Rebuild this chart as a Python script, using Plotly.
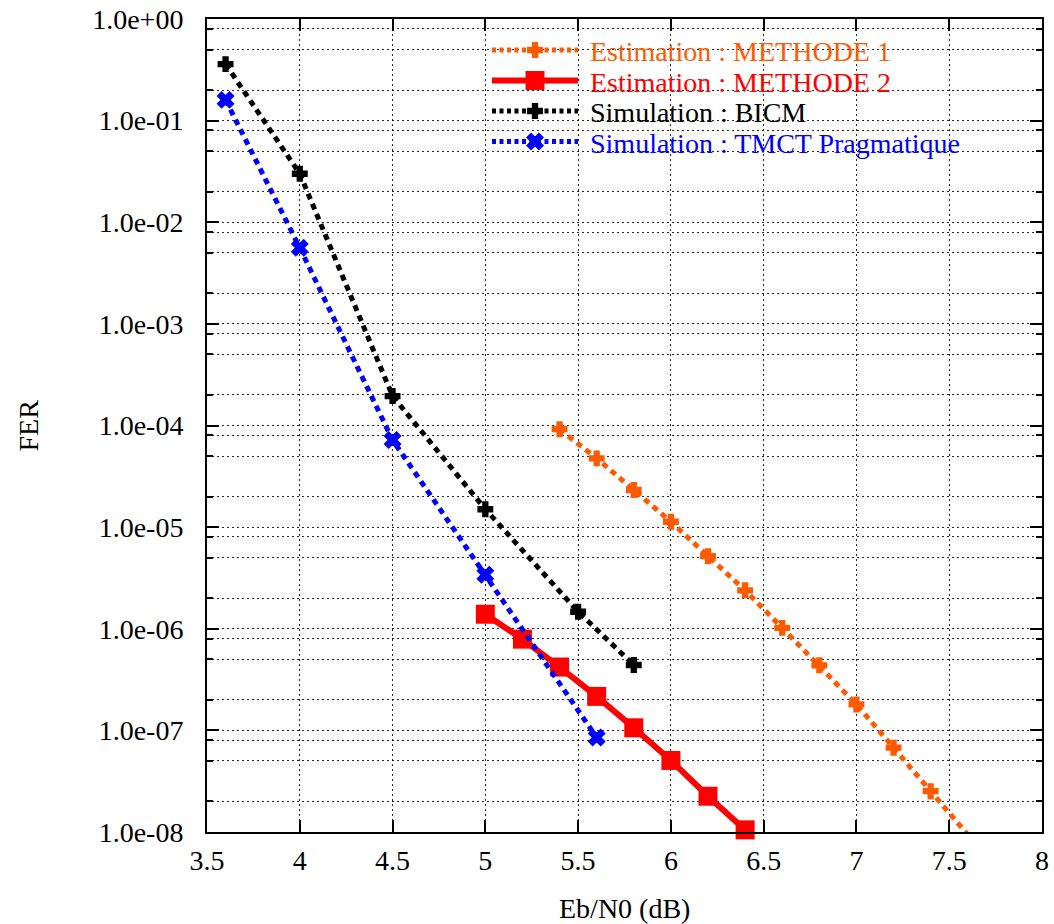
import plotly.graph_objects as go

# ---- data -------------------------------------------------------------
ebn0_m1 = [5.4, 5.6, 5.8, 6.0, 6.2, 6.4, 6.6, 6.8, 7.0, 7.2, 7.4, 7.6]
fer_m1 = [9.2e-5, 4.75e-5, 2.32e-5, 1.13e-5, 5.18e-6, 2.39e-6,
          1.02e-6, 4.37e-7, 1.80e-7, 6.75e-8, 2.52e-8, 9.4e-9]

ebn0_m2 = [5.0, 5.2, 5.4, 5.6, 5.8, 6.0, 6.2, 6.4]
fer_m2 = [1.39e-6, 7.9e-7, 4.2e-7, 2.16e-7, 1.06e-7, 5.06e-8, 2.25e-8, 1.05e-8]

ebn0_bicm = [3.6, 4.0, 4.5, 5.0, 5.5, 5.8]
fer_bicm = [3.6e-1, 3.0e-2, 1.95e-4, 1.5e-5, 1.47e-6, 4.4e-7]

ebn0_tmct = [3.6, 4.0, 4.5, 5.0, 5.6]
fer_tmct = [1.6e-1, 5.6e-3, 7.2e-5, 3.4e-6, 8.5e-8]

names = ["Estimation : METHODE 1", "Estimation : METHODE 2",
         "Simulation : BICM", "Simulation : TMCT Pragmatique"]

x_ticks = [3.5, 4.0, 4.5, 5.0, 5.5, 6.0, 6.5, 7.0, 7.5, 8.0]
x_labels = ["3.5", "4", "4.5", "5", "5.5", "6", "6.5", "7", "7.5", "8"]
y_exps = list(range(0, -9, -1))
y_labels = ["1.0e+00", "1.0e-01", "1.0e-02", "1.0e-03", "1.0e-04",
            "1.0e-05", "1.0e-06", "1.0e-07", "1.0e-08"]

# ---- styling ----------------------------------------------------------
ORANGE = "#ff5a00"
RED = "#ff0000"
BLACK = "#000000"
BLUE = "#0000ff"
FONT = "Liberation Serif"
Y_MIN = 1e-8

W, H = 1054, 924
ML, MR, MT, MB = 207, 12, 19, 92
PW, PH = W - ML - MR, H - MT - MB

DOT_DATA = "6px,5px"
DOT_KEY = "4px,3.5px"

series = [
    dict(x=ebn0_m1, y=fer_m1, color=ORANGE, width=5, dash=DOT_DATA,
         symbol="cross", size=12, clip=True),
    dict(x=ebn0_m2, y=fer_m2, color=RED, width=6, dash="solid",
         symbol="square", size=19, clip=False),
    dict(x=ebn0_bicm, y=fer_bicm, color=BLACK, width=5, dash=DOT_DATA,
         symbol="cross", size=12, clip=True),
    dict(x=ebn0_tmct, y=fer_tmct, color=BLUE, width=5, dash=DOT_DATA,
         symbol="x", size=14, clip=True),
]

fig = go.Figure()

for s, name in zip(series, names):
    # points below the y-range keep their line segment but show no marker
    sizes = [s["size"] if v >= Y_MIN else 0 for v in s["y"]]
    fig.add_trace(go.Scatter(
        x=s["x"], y=s["y"], name=name, mode="lines+markers",
        line=dict(color=s["color"], width=s["width"], dash=s["dash"]),
        marker=dict(symbol=s["symbol"], size=sizes, color=s["color"],
                    opacity=1,
                    line=dict(width=0 if s["symbol"] == "square" else 1.5,
                              color=s["color"])),
        cliponaxis=s["clip"], showlegend=False,
    ))

# ---- key (drawn on a pixel-based overlay axis pair) --------------------
key_x0, key_x1, key_xm, key_tx = 285, 371, 328, 381
key_rows = [31, 61.5, 92, 122.5]

for s, name, yy in zip(series, names, key_rows):
    dash = "solid" if s["dash"] == "solid" else DOT_KEY
    fig.add_trace(go.Scatter(
        x=[key_x0, key_x1], y=[yy, yy], mode="lines", xaxis="x2", yaxis="y2",
        line=dict(color=s["color"], width=s["width"], dash=dash),
        showlegend=False, hoverinfo="skip",
    ))
    fig.add_trace(go.Scatter(
        x=[key_xm], y=[yy], mode="markers", xaxis="x2", yaxis="y2",
        marker=dict(symbol=s["symbol"], size=s["size"], color=s["color"],
                    opacity=1,
                    line=dict(width=0 if s["symbol"] == "square" else 1.5,
                              color=s["color"])),
        showlegend=False, hoverinfo="skip", cliponaxis=False,
    ))
    fig.add_annotation(
        x=key_tx, y=yy, xref="x2", yref="y2", text=name, showarrow=False,
        xanchor="left", yanchor="middle", yshift=-1.5,
        font=dict(family=FONT, size=28, color=s["color"]),
    )

# ---- axes -------------------------------------------------------------
grid = dict(gridcolor="rgba(0,0,0,0.85)", gridwidth=1, griddash="2px,3px")

minor_vals = [m * 10.0 ** e for e in range(-8, 0) for m in (2, 5, 8)]

fig.update_layout(
    width=W, height=H, autosize=False,
    margin=dict(l=ML, r=MR, t=MT, b=MB, pad=0),
    paper_bgcolor="white", plot_bgcolor="white",
    font=dict(family=FONT, size=28, color="black"),
    xaxis=dict(
        range=[3.5, 8.0], tickmode="array", tickvals=x_ticks, ticktext=x_labels,
        ticks="inside", ticklen=12, tickwidth=2, tickcolor="black",
        showline=True, linewidth=2, linecolor="black", mirror="allticks",
        showgrid=True, zeroline=False, ticklabelstandoff=2, automargin=False,
        **grid,
    ),
    yaxis=dict(
        type="log", range=[-8, 0], tickmode="array",
        tickvals=[10.0 ** e for e in y_exps], ticktext=y_labels,
        ticks="inside", ticklen=12, tickwidth=2, tickcolor="black",
        showline=True, linewidth=2, linecolor="black", mirror="allticks",
        showgrid=True, zeroline=False, ticklabelstandoff=16, automargin=False,
        minor=dict(tickmode="array", tickvals=minor_vals, ticks="inside",
                   ticklen=6, tickwidth=2, tickcolor="black", showgrid=True,
                   **grid),
        **grid,
    ),
    xaxis2=dict(overlaying="x", range=[0, PW], visible=False, fixedrange=True,
                automargin=False),
    yaxis2=dict(overlaying="y", range=[PH, 0], visible=False, fixedrange=True,
                automargin=False),
    showlegend=False,
)

# axis titles
fig.add_annotation(x=0.5, y=0, xref="paper", yref="paper", text="Eb/N0 (dB)",
                   showarrow=False, xanchor="center", yanchor="middle",
                   yshift=-76, font=dict(family=FONT, size=28))
fig.add_annotation(x=0, y=0.5, xref="paper", yref="paper", text="FER",
                   showarrow=False, xanchor="center", yanchor="middle",
                   xshift=-179, textangle=-90, font=dict(family=FONT, size=28))

fig.write_html("out.html")
